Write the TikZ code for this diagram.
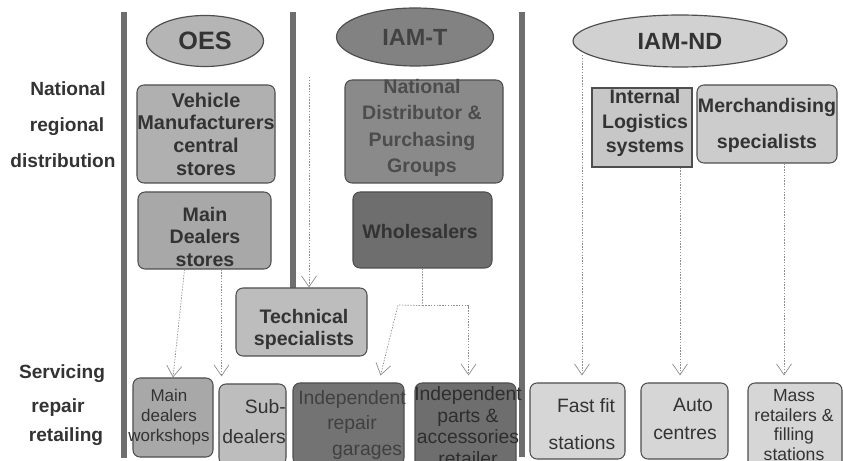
\documentclass[tikz,border=0pt]{standalone}
\usepackage{fontspec}
\setmainfont{Liberation Sans}
\usetikzlibrary{shapes.geometric,arrows.meta,calc}
\newdimen\pxu \pxu=0.03cm
\definecolor{bordc}{HTML}{4E4E4E}
\definecolor{txtc}{HTML}{333333}
\definecolor{barc}{HTML}{6E6E6E}
\definecolor{flowc}{HTML}{8E8E8E}
\begin{document}
\begin{tikzpicture}[x=0.03cm,y=-0.03cm,
  box/.style={draw=bordc, line width=0.9pt, rounded corners=7\pxu, inner sep=0pt},
  sqbox/.style={draw=bordc, line width=0.9pt, inner sep=0pt},
  oval/.style={ellipse, draw=bordc, line width=1pt, inner sep=0pt},
  btxt/.style={align=center, font=\bfseries\fontsize{16.7}{19.4}\selectfont, text=txtc, inner sep=0pt},
  rtxt/.style={align=center, font=\fontsize{16.5}{20}\selectfont, text=txtc, inner sep=0pt},
  lbl/.style={font=\bfseries\fontsize{16.3}{19}\selectfont, text=txtc, inner sep=0pt},
  ovtxt/.style={font=\bfseries\fontsize{20}{24}\selectfont, text=txtc, inner sep=0pt},
  flow/.style={draw=flowc, line width=0.6pt, dash pattern=on 1.2pt off 1.2pt,
    -{Straight Barb[length=9.4pt,width=12.8pt]}},
  bar/.style={fill=barc, draw=none}
]
\useasboundingbox (0,0) rectangle (843,461);
\clip (0,0) rectangle (843,461);
\fill[white] (0,0) rectangle (843,461);

% vertical separators
\fill[bar] (121,12) rectangle (127,458);
\fill[bar] (290,12) rectangle (296,288);
\fill[bar] (519,12) rectangle (525,457);

% row labels
\node[lbl] (nat)  at (68,89)  {National};
\node[lbl] (reg)  at (67,127) {regional};
\node[lbl] (dist) at (63,161) {distribution};
\node[lbl] (serv) at (62,374) {Servicing};
\node[lbl] (rep)  at (58,408) {repair};
\node[lbl] (ret)  at (66,437) {retailing};

% headers
\node[oval, fill=black!29, minimum width=117\pxu, minimum height=51\pxu] (oes) at (205,41) {};
\node[ovtxt, font=\bfseries\fontsize{21.5}{24}\selectfont] (oest) at (oes) {OES};
\node[oval, fill=black!49, minimum width=157\pxu, minimum height=58\pxu] (iamt) at (415,37) {};
\node[ovtxt, text=black!74] (iamtt) at (iamt) {IAM-T};
\node[oval, fill=black!18, minimum width=214\pxu, minimum height=52\pxu] (iamnd) at (680,41) {};
\node[ovtxt] (iamndt) at (iamnd) {IAM-ND};

% OES column
\node[box, fill=black!31, minimum width=138\pxu, minimum height=98\pxu] (vmcs) at (206,134) {};
\node[btxt, font=\bfseries\fontsize{17}{19.4}\selectfont] (vmcst) at (206,134) {Vehicle\\Manufacturers\\central\\stores};
\node[box, fill=black!34, minimum width=133\pxu, minimum height=77\pxu] (mds) at (204.5,230.5) {};
\node[btxt, font=\bfseries\fontsize{16.7}{18.8}\selectfont] (mdst) at (205,237) {Main\\Dealers\\stores};
\node[box, fill=black!26, minimum width=131\pxu, minimum height=68\pxu] (tech) at (301.5,322) {};
\node[btxt, font=\bfseries\fontsize{16.7}{18.8}\selectfont] (techt) at (304,329) {Technical\\specialists};

% IAM-T column
\node[box, fill=black!46, minimum width=158\pxu, minimum height=103\pxu] (ndpg) at (424,131.5) {};
\node[btxt, text=black!70, font=\bfseries\fontsize{16.7}{22.7}\selectfont] (ndpgt) at (422,128) {National\\Distributor \&\\Purchasing\\Groups};
\node[box, fill=black!57, minimum width=139\pxu, minimum height=76\pxu] (whs) at (422.5,230) {};
\node[btxt, text=black!80] (whst) at (420,232) {Wholesalers};

% IAM-ND column
\node[sqbox, fill=black!22, minimum width=100\pxu, minimum height=79\pxu] (ils) at (642,127.5) {};
\node[btxt, font=\bfseries\fontsize{16.7}{20.9}\selectfont] (ilst) at (645,123) {Internal\\Logistics\\systems};
\node[box, fill=black!20, minimum width=140\pxu, minimum height=78\pxu] (merch) at (767,124) {};
\node[btxt, font=\bfseries\fontsize{16.7}{30.7}\selectfont] (mercht) at (767,125) {Merchandising\\specialists};

% bottom row
\node[box, fill=black!34, minimum width=80\pxu, minimum height=79\pxu] (mdw) at (173,417.5) {};
\node[rtxt, font=\fontsize{14.5}{17}\selectfont] (mdwt) at (169,417) {Main\\dealers\\workshops};
\node[box, fill=black!26, minimum width=67\pxu, minimum height=81\pxu] (sub) at (252.5,424.5) {};
\node[rtxt, align=right, anchor=east, font=\fontsize{16.5}{25.6}\selectfont] (subt) at (286,422) {Sub-\\dealers};
\node[box, fill=black!55, minimum width=111\pxu, minimum height=82\pxu] (irg) at (348.5,424) {};
\node[rtxt, text=black!75, font=\fontsize{16.5}{21.5}\selectfont] (irgt) at (352,425) {Independent\\repair\\\hspace*{30\pxu}garages};
\node[box, fill=black!57, minimum width=101\pxu, minimum height=87\pxu] (ipar) at (465.5,426.5) {};
\node[rtxt, text=black!82, font=\fontsize{16.5}{18.5}\selectfont] (ipart) at (468,426) {Independent\\parts \&\\accessories\\retailer};
\node[box, fill=black!16, minimum width=95\pxu, minimum height=76\pxu] (ffs) at (577.5,421) {};
\node[rtxt, font=\fontsize{16.5}{32}\selectfont] (ffst) at (582,424) {\hspace*{8\pxu}Fast fit\\stations};
\node[box, fill=black!16, minimum width=87\pxu, minimum height=76\pxu] (auto) at (684.5,421) {};
\node[rtxt, font=\fontsize{16.5}{24}\selectfont] (autot) at (685,419) {\hspace*{16\pxu}Auto\\centres};
\node[box, fill=black!16, minimum width=94\pxu, minimum height=87\pxu] (mass) at (795,426.5) {};
\node[rtxt, font=\fontsize{15}{17}\selectfont] (masst) at (794,425) {Mass\\retailers \&\\filling\\stations};

% connectors
\draw[flow] ($(mds.south)+(-20,0)$) -- (mdw.north);
\coordinate (a2) at ($(mds.south)+(17,0)$);
\draw[flow, shorten >=7\pxu] (a2) -- (a2 |- sub.north);
\coordinate (tstart) at (309,77);
\draw[flow] (tstart) -- (tstart |- tech.north);
\coordinate (wj) at ($(whs.south)+(0,37)$);
\coordinate (wl) at (398,305);
\coordinate (irgin) at ($(irg.north)+(32,-7)$);
\coordinate (iparin) at ($(ipar.north)+(3,-7)$);
\draw[flow] (whs.south) -- (wj) -- (wl) -- (irgin);
\draw[flow] (wj) -| (iparin);
\coordinate (ndstart) at (582,55);
\draw[flow, shorten >=7\pxu] (ndstart) -- (ndstart |- ffs.north);
\coordinate (ilsout) at ($(ils.south)+(38,0)$);
\draw[flow, shorten >=7\pxu] (ilsout) -- (ilsout |- auto.north);
\coordinate (merchout) at ($(merch.south)+(17,0)$);
\draw[flow, shorten >=7\pxu] (merchout) -- (merchout |- mass.north);
\end{tikzpicture}
\end{document}
